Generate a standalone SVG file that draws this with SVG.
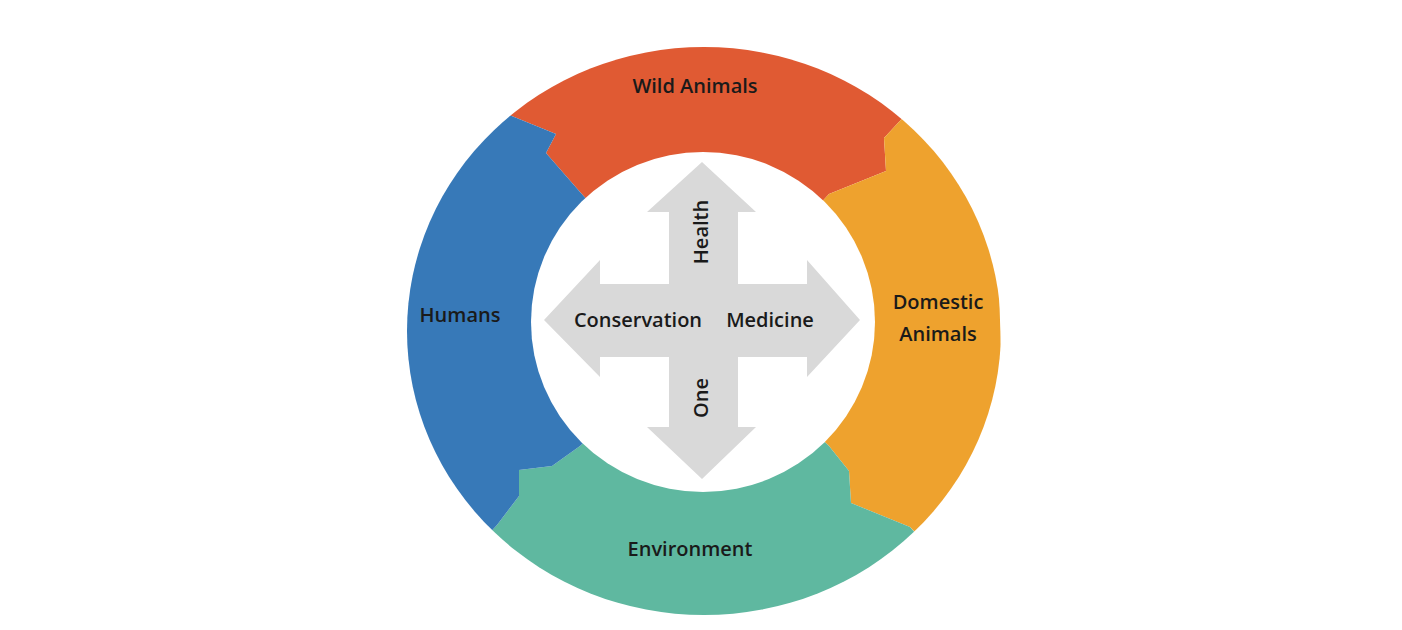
<svg xmlns="http://www.w3.org/2000/svg" width="1402" height="630" viewBox="0 0 1402 630">
<style>
text{font-family:"Open Sans","Liberation Sans",sans-serif;font-size:20px;font-weight:600;fill:#1a1a1a;text-anchor:middle}
</style>
<defs><clipPath id="ring"><ellipse cx="704" cy="331" rx="297" ry="284"/></clipPath></defs>
<rect width="1402" height="630" fill="#fff"/>
<g clip-path="url(#ring)">
<g id="wild"><polygon fill="#E05A33" points="704,330 580,192 546,153 556,134 497,110 420,10 990,10 910,110 884,138 886,171 829,194"/></g>
<g id="domestic"><polygon fill="#EEA22E" points="704,330 829,194 886,171 884,138 910,110 990,10 1010,630 910,527 851,503 849,471 829,446"/></g>
<g id="environment"><polygon fill="#5FB8A0" points="704,330 829,446 849,471 851,503 910,527 1000,630 400,630 497,525 519,496 519,470 552,466 580,446"/></g>
<g id="humans"><polygon fill="#3779B8" points="704,330 580,446 552,466 519,470 519,496 497,525 400,630 400,10 420,10 497,110 556,134 546,153 580,192"/></g>
</g>
<ellipse cx="703" cy="322" rx="172" ry="170" fill="#fff"/>
<g id="cross"><polygon fill="#D9D9D9" points="702,162 756,212 738,212 738,284 807,284 807,260 860,320 807,377 807,357 738,357 738,427 756,427 702,479 647,427 669,427 669,357 600,357 600,377 544,320 600,260 600,284 669,284 669,212 647,212"/></g>
<g id="labels">
<text x="695" y="93">Wild Animals</text>
<text x="460" y="322">Humans</text>
<text x="938" y="309">Domestic</text>
<text x="938" y="341">Animals</text>
<text x="690" y="556">Environment</text>
<text x="638" y="327">Conservation</text>
<text x="770" y="327">Medicine</text>
<text transform="translate(708,232) rotate(-90)">Health</text>
<text transform="translate(708,398) rotate(-90)">One</text>
</g>
</svg>
